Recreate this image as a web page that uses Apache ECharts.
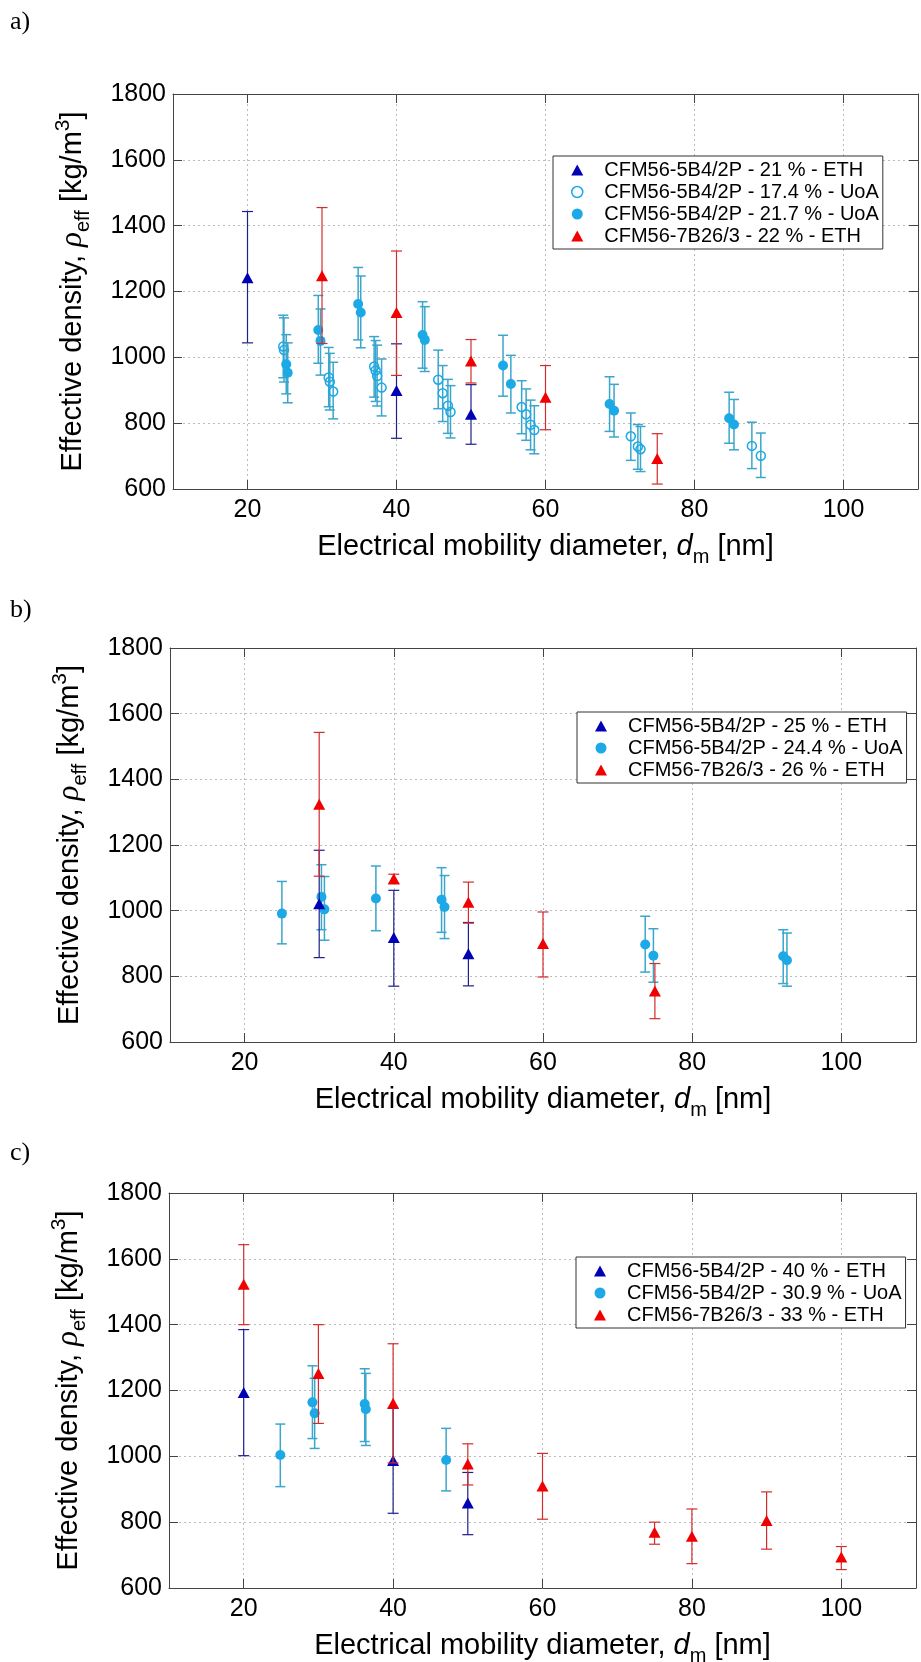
<!DOCTYPE html>
<html>
<head>
<meta charset="utf-8">
<script src="https://cdn.jsdelivr.net/npm/echarts@6.0.0/dist/echarts.min.js"></script>
<style>
  html, body { margin: 0; padding: 0; background: #fff; }
  #chart { width: 921px; height: 1662px; }
</style>
</head>
<body>
<div id="chart"></div>
<script>
// Axis ranges and tick labels shared by the three panels
const xRange = [10, 110];
const xTicks = [20, 40, 60, 80, 100];
const yRange = [600, 1800];
const yStep = 200;

// Points: [mobility diameter (nm), effective density, lower bound, upper bound]
// a) low thrust
const aEth21 = [[20, 1242, 1044, 1443], [40, 899, 754, 1041], [50, 827, 736, 917]];
const aUoa174 = [
  [24.8, 1033, 938, 1128], [24.9, 1022, 925, 1120],
  [30.9, 939, 850, 1030], [31.05, 926, 840, 1012], [31.5, 896, 813, 985],
  [37.0, 972, 879, 1063], [37.2, 960, 866, 1051], [37.4, 943, 852, 1037], [38.0, 908, 822, 995],
  [45.6, 932, 844, 1022], [46.2, 891, 805, 975], [46.9, 853, 769, 933], [47.25, 834, 755, 914],
  [56.8, 849, 768, 929], [57.4, 827, 748, 904], [58.0, 795, 719, 870], [58.5, 779, 707, 853],
  [71.45, 760, 687, 831], [72.4, 729, 660, 796], [72.75, 721, 653, 790],
  [87.7, 731, 662, 803], [88.9, 701, 635, 770]
];
const aUoa217 = [
  [25.2, 979, 889, 1069], [25.4, 953, 862, 1044],
  [29.5, 1083, 982, 1188], [29.8, 1050, 946, 1147],
  [34.85, 1162, 1053, 1273], [35.2, 1136, 1029, 1247],
  [43.5, 1068, 967, 1169], [43.8, 1053, 957, 1154],
  [54.3, 975, 882, 1067], [55.35, 919, 831, 1006],
  [68.6, 858, 775, 941], [69.2, 838, 758, 918],
  [84.65, 815, 739, 894], [85.3, 796, 719, 872]
];
const aEth22 = [[30, 1248, 1042, 1455], [40, 1136, 945, 1323], [50, 989, 922, 1054], [60, 879, 780, 975], [75, 693, 615, 768]];

// b) medium thrust
const bEth25 = [[30, 1021, 857, 1184], [40, 918, 770, 1062], [50, 869, 771, 964]];
const bUoa244 = [
  [25.0, 991, 899, 1089], [30.3, 1042, 942, 1140], [30.7, 1004, 910, 1104],
  [37.6, 1037, 939, 1136], [46.4, 1033, 934, 1131], [46.8, 1011, 915, 1107],
  [73.7, 897, 813, 983], [74.8, 863, 782, 945], [92.2, 861, 778, 942], [92.7, 849, 770, 932]
];
const bEth26 = [[30, 1324, 1105, 1543], [40, 1097, 1082, 1111], [50, 1026, 962, 1087], [60, 900, 798, 996], [75, 755, 671, 839]];

// c) higher thrust
const cEth40 = [[20, 1194, 1002, 1385], [40, 987, 827, 1146], [50, 858, 762, 951]];
const cUoa309 = [
  [24.9, 1004, 908, 1098], [29.2, 1164, 1054, 1275], [29.5, 1131, 1024, 1237],
  [36.2, 1159, 1045, 1266], [36.35, 1143, 1033, 1252], [47.1, 989, 895, 1085]
];
const cEth33 = [[20, 1523, 1400, 1643], [30, 1252, 1100, 1400], [40, 1161, 980, 1342], [50, 977, 913, 1038],
  [60, 910, 809, 1009], [75, 769, 733, 800], [80, 757, 674, 840], [90, 805, 718, 892], [100, 694, 656, 726]];

// Series names
const aNames = ['CFM56-5B4/2P - 21 % - ETH', 'CFM56-5B4/2P - 17.4 % - UoA', 'CFM56-5B4/2P - 21.7 % - UoA', 'CFM56-7B26/3 - 22 % - ETH'];
const bNames = ['CFM56-5B4/2P - 25 % - ETH', 'CFM56-5B4/2P - 24.4 % - UoA', 'CFM56-7B26/3 - 26 % - ETH'];
const cNames = ['CFM56-5B4/2P - 40 % - ETH', 'CFM56-5B4/2P - 30.9 % - UoA', 'CFM56-7B26/3 - 33 % - ETH'];

const SANS = 'Liberation Sans';
const SERIF = 'Liberation Serif';

// Marker / error bar looks per data source
const LOOK = {
  eth5: { symbol: 'triangle', size: [12, 11], fill: '#0000B4', stroke: null, bar: '#1E1E8C', barWidth: 1.2, cap: 11, icon: 'triangle' },
  eth7: { symbol: 'triangle', size: [12, 11], fill: '#F00000', stroke: null, bar: '#D22C2C', barWidth: 1.2, cap: 11, icon: 'triangle' },
  uoaOpen: { symbol: 'circle', size: 9, fill: 'rgba(0,0,0,0)', stroke: '#1CA9E6', bar: '#3AA6CC', barWidth: 1.5, cap: 10, icon: 'circle' },
  uoaFill: { symbol: 'circle', size: 10, fill: '#1CA9E6', stroke: null, bar: '#3AA6CC', barWidth: 1.5, cap: 10, icon: 'circle' }
};

const panels = [
  {
    letter: 'a)', letterTop: 9,
    grid: { left: 173, top: 94, width: 745, height: 395 },
    legendPos: { left: 553, top: 156 },
    legendOrder: [[aNames[0], 'eth5'], [aNames[1], 'uoaOpen'], [aNames[2], 'uoaFill'], [aNames[3], 'eth7']],
    draw: [[aNames[1], aUoa174, 'uoaOpen'], [aNames[2], aUoa217, 'uoaFill'], [aNames[0], aEth21, 'eth5'], [aNames[3], aEth22, 'eth7']]
  },
  {
    letter: 'b)', letterTop: 597,
    grid: { left: 170, top: 648, width: 746, height: 394 },
    legendPos: { left: 577, top: 712 },
    legendOrder: [[bNames[0], 'eth5'], [bNames[1], 'uoaFill'], [bNames[2], 'eth7']],
    draw: [[bNames[1], bUoa244, 'uoaFill'], [bNames[0], bEth25, 'eth5'], [bNames[2], bEth26, 'eth7']]
  },
  {
    letter: 'c)', letterTop: 1140,
    grid: { left: 169, top: 1193, width: 747, height: 395 },
    legendPos: { left: 576, top: 1257 },
    legendOrder: [[cNames[0], 'eth5'], [cNames[1], 'uoaFill'], [cNames[2], 'eth7']],
    draw: [[cNames[1], cUoa309, 'uoaFill'], [cNames[0], cEth40, 'eth5'], [cNames[2], cEth33, 'eth7']]
  }
];

const frame = { color: '#444', width: 1 };
const gridLine = { color: '#bcbcbc', width: 1, type: [2, 3] };

const xName = '{t|Electrical mobility diameter, }{d|d}{s|m}{t| [nm]}';
const yName = '{t|Effective density, }{r|\u03C1}{s|eff}{t| [kg/m}{p|3}{t|]}';
const nameRich = {
  t: { fontFamily: SANS, fontSize: 29, color: '#000', lineHeight: 40, verticalAlign: 'middle' },
  d: { fontFamily: SANS, fontSize: 29, fontStyle: 'italic', color: '#000', lineHeight: 40, verticalAlign: 'middle' },
  r: { fontFamily: SERIF, fontSize: 31, fontStyle: 'italic', color: '#000', lineHeight: 40, verticalAlign: 'middle' },
  s: { fontFamily: SANS, fontSize: 20, color: '#000', lineHeight: 20, verticalAlign: 'bottom' },
  p: { fontFamily: SANS, fontSize: 21, color: '#000', lineHeight: 12, verticalAlign: 'top' }
};

function errorBars(look, data, xi, yi, z) {
  return {
    type: 'custom', xAxisIndex: xi, yAxisIndex: yi, silent: true, z: z,
    data: data, encode: { x: 0, y: 1 },
    renderItem: function (params, api) {
      const x = api.value(0);
      const lo = api.coord([x, api.value(2)]);
      const hi = api.coord([x, api.value(3)]);
      const h = look.cap / 2;
      const st = () => ({ stroke: look.bar, lineWidth: look.barWidth, fill: null });
      return {
        type: 'group', children: [
          { type: 'line', shape: { x1: lo[0], y1: lo[1], x2: hi[0], y2: hi[1] }, style: st() },
          { type: 'line', shape: { x1: hi[0] - h, y1: hi[1], x2: hi[0] + h, y2: hi[1] }, style: st() },
          { type: 'line', shape: { x1: lo[0] - h, y1: lo[1], x2: lo[0] + h, y2: lo[1] }, style: st() }
        ]
      };
    }
  };
}

function markers(name, look, data, xi, yi, z) {
  return {
    type: 'scatter', name: name, xAxisIndex: xi, yAxisIndex: yi, z: z,
    data: data.map(d => [d[0], d[1]]),
    symbol: look.symbol, symbolSize: look.size,
    itemStyle: look.stroke
      ? { color: look.fill, borderColor: look.stroke, borderWidth: 1.5, opacity: 1 }
      : { color: look.fill, borderWidth: 0, opacity: 1 },
    emphasis: { disabled: true }
  };
}

const plain = v => String(v);

const option = {
  backgroundColor: '#fff', animation: false,
  grid: [], xAxis: [], yAxis: [], legend: [], series: [], graphic: []
};

panels.forEach((p, i) => {
  option.grid.push(Object.assign({ containLabel: false, outerBoundsMode: 'none' }, p.grid));
  const xb = 2 * i, yl = 2 * i;

  // bottom and top x axes (top one only carries the frame and ticks)
  option.xAxis.push({
    type: 'value', gridIndex: i, position: 'bottom', min: xRange[0], max: xRange[1],
    axisLine: { show: true, onZero: false, lineStyle: frame },
    axisTick: { show: true, inside: true, length: 9, customValues: xTicks, lineStyle: frame },
    axisLabel: { show: true, customValues: xTicks, formatter: plain, margin: 9, fontFamily: SANS, fontSize: 25, color: '#000' },
    splitLine: { show: true, lineStyle: gridLine },
    name: xName, nameLocation: 'middle', nameGap: 38,
    nameTextStyle: { rich: nameRich }
  });
  option.xAxis.push({
    type: 'value', gridIndex: i, position: 'top', min: xRange[0], max: xRange[1],
    axisLine: { show: true, onZero: false, lineStyle: frame },
    axisTick: { show: true, inside: true, length: 9, customValues: xTicks, lineStyle: frame },
    axisLabel: { show: false }, splitLine: { show: false }
  });

  // left and right y axes
  option.yAxis.push({
    type: 'value', gridIndex: i, position: 'left', min: yRange[0], max: yRange[1], interval: yStep,
    axisLine: { show: true, onZero: false, lineStyle: frame },
    axisTick: { show: true, inside: true, length: 9, lineStyle: frame },
    axisLabel: { show: true, formatter: plain, margin: 7, fontFamily: SANS, fontSize: 25, color: '#000' },
    splitLine: { show: true, lineStyle: gridLine },
    name: yName, nameLocation: 'middle', nameGap: 80, nameRotate: 90,
    nameTextStyle: { rich: nameRich }
  });
  option.yAxis.push({
    type: 'value', gridIndex: i, position: 'right', min: yRange[0], max: yRange[1], interval: yStep,
    axisLine: { show: true, onZero: false, lineStyle: frame },
    axisTick: { show: true, inside: true, length: 9, lineStyle: frame },
    axisLabel: { show: false }, splitLine: { show: false }
  });

  p.draw.forEach((d, k) => {
    const look = LOOK[d[2]];
    option.series.push(errorBars(look, d[1], xb, yl, 2 + k * 2));
    option.series.push(markers(d[0], look, d[1], xb, yl, 3 + k * 2));
  });

  option.legend.push({
    show: true, orient: 'vertical', left: p.legendPos.left, top: p.legendPos.top,
    selectedMode: false, itemWidth: 12, itemHeight: 11, itemGap: 0,
    padding: [3, 4, 2, 18], backgroundColor: '#fff', borderColor: '#333', borderWidth: 1, borderRadius: 0,
    textStyle: { fontFamily: SANS, fontSize: 20, color: '#000', lineHeight: 22, padding: [0, 0, 0, 16] },
    data: p.legendOrder.map(([n, key]) => {
      const look = LOOK[key];
      return {
        name: n, icon: look.icon,
        itemStyle: look.stroke
          ? { color: 'rgba(0,0,0,0)', borderColor: look.stroke, borderWidth: 1.5 }
          : { color: look.fill, borderWidth: 0 }
      };
    })
  });

  option.graphic.push({
    type: 'text', left: 10, top: p.letterTop,
    style: { text: p.letter, font: '26px "Liberation Serif"', fill: '#000' }
  });
});

const chart = echarts.init(document.getElementById('chart'), null, { renderer: 'canvas' });
chart.setOption(option);
</script>
</body>
</html>
